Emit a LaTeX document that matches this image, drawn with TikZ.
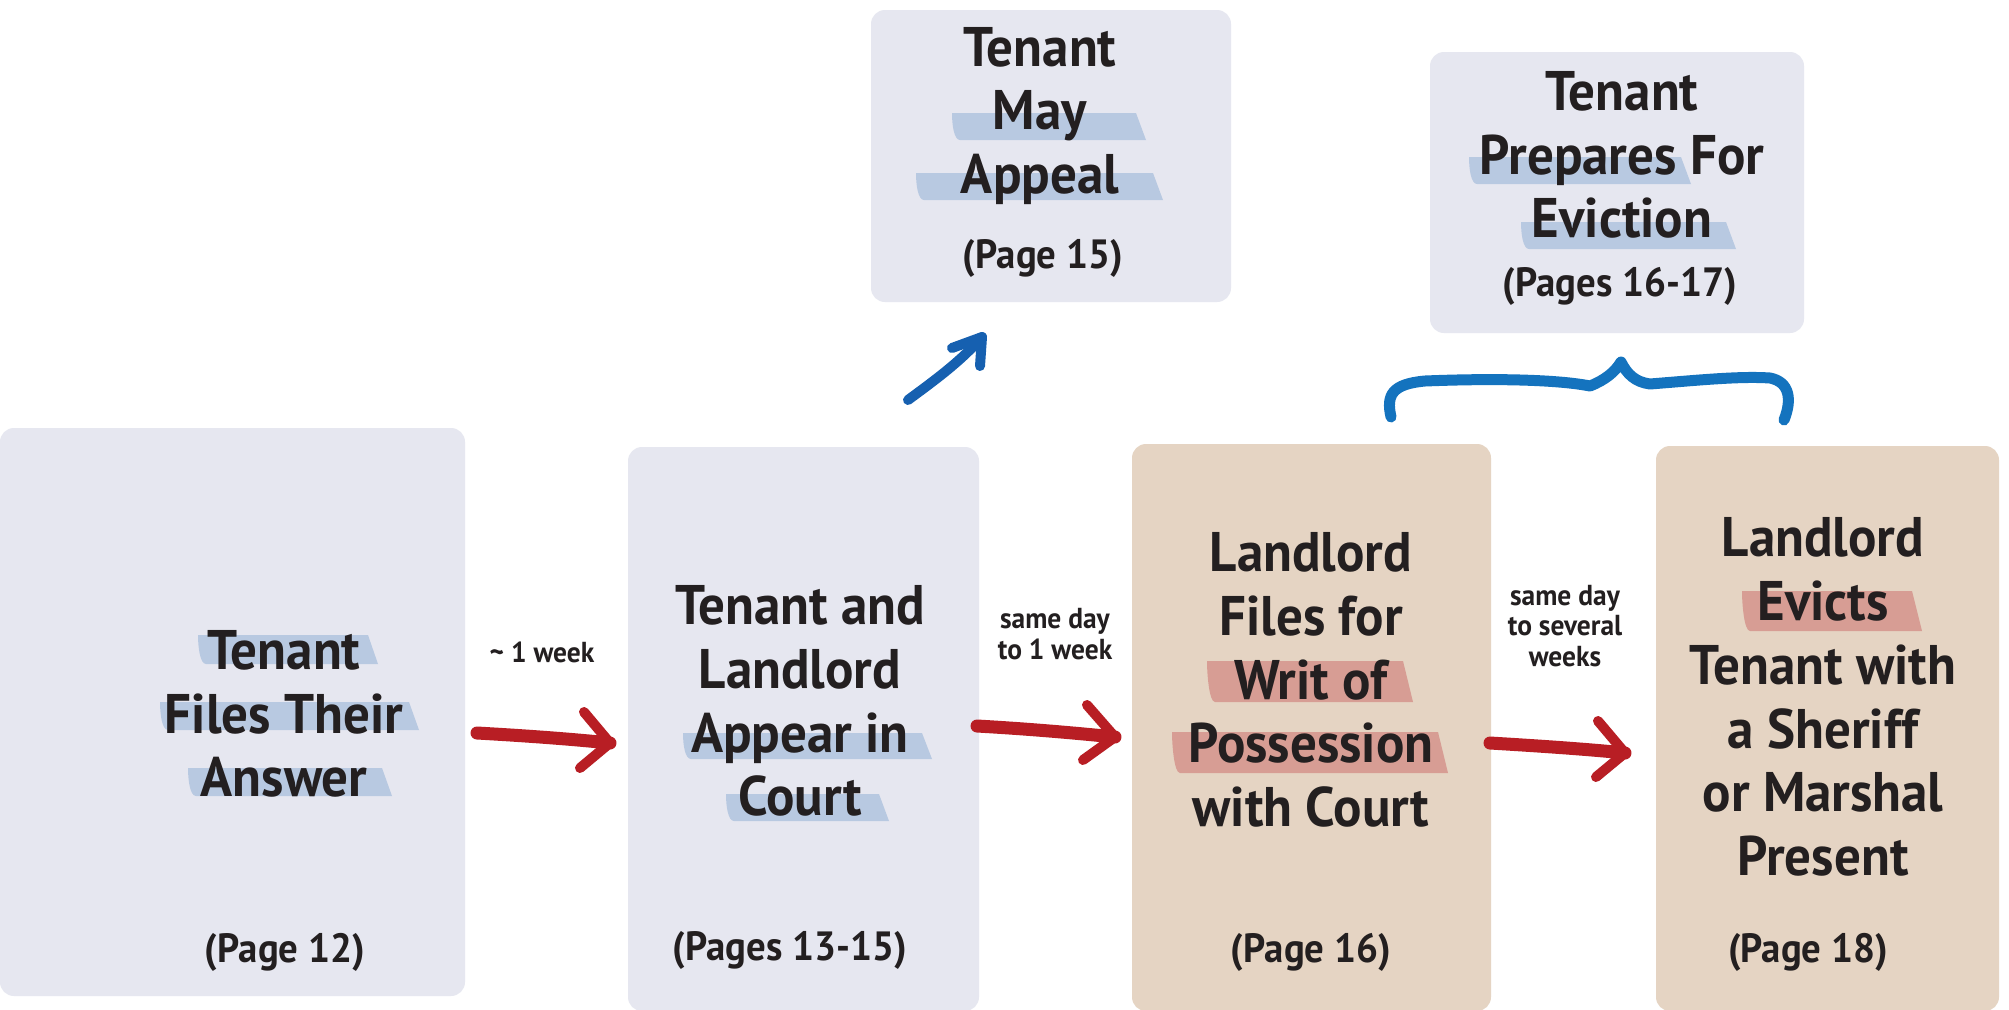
\documentclass[tikz,border=0pt]{standalone}
\usepackage{fontspec}
\setmainfont{PT Sans}[FakeStretch=0.95]
\definecolor{boxgray}{RGB}{230,231,240}
\definecolor{boxtan}{RGB}{229,212,195}
\definecolor{barblue}{RGB}{184,201,225}
\definecolor{barred}{RGB}{215,157,148}
\definecolor{arrred}{RGB}{184,30,36}
\definecolor{arrblue}{RGB}{22,96,176}
\definecolor{braceblue}{RGB}{20,115,190}
\definecolor{ink}{RGB}{35,31,32}
\newcommand\hlbar[5]{\fill[#1] (#2,#4) -- (#3-10,#4) -- (#3,#5) -- (#2+8,#5) .. controls (#2+2,#5) and (#2,#4+12) .. (#2,#4) -- cycle;}
\tikzset{
  panel/.style={fill=#1, draw=none, rounded corners=14bp, inner sep=0pt},
  big/.style={font=\bfseries\fontsize{56}{64}\selectfont, align=center, text=ink, inner sep=0pt},
  pg/.style={font=\bfseries\fontsize{41}{48}\selectfont, text=ink, inner sep=0pt},
  lbl/.style={font=\bfseries\fontsize{29}{31}\selectfont, align=center, text=ink, inner sep=0pt},
  redshaft/.style={draw=arrred, line width=13bp, line cap=round, line join=round},
  redhead/.style={draw=arrred, line width=10bp, line cap=round, line join=round},
  bluearr/.style={draw=arrblue, line width=10bp, line cap=round, line join=round},
  bracestyle/.style={draw=braceblue, line width=11bp, line cap=round, line join=round}
}
\begin{document}
\begin{tikzpicture}[x=1bp,y=-1bp]
\useasboundingbox (0,0) rectangle (2009,1009);
\fill[white] (0,0) rectangle (2009,1009);
% panels
\node[panel=boxgray, minimum width=465bp, minimum height=568bp] (b1) at (232.5,712) {};
\node[panel=boxgray, minimum width=351bp, minimum height=564bp] (b2) at (803.5,729) {};
\node[panel=boxtan, minimum width=359bp, minimum height=567bp] (b3) at (1311.5,727.5) {};
\node[panel=boxtan, minimum width=343bp, minimum height=565bp] (b4) at (1827.5,728.5) {};
\node[panel=boxgray, minimum width=360bp, minimum height=292bp] (t1) at (1051,156) {};
\node[panel=boxgray, minimum width=374bp, minimum height=281bp] (t2) at (1617,192.5) {};
% highlight bars
\hlbar{barblue}{198}{378}{635}{664}
\hlbar{barblue}{160}{419}{702}{730}
\hlbar{barblue}{188}{392}{768}{796}
\hlbar{barblue}{683}{932}{733}{759}
\hlbar{barblue}{726}{889}{794}{821}
\hlbar{barred}{1207}{1413}{661}{702}
\hlbar{barred}{1172}{1448}{732}{773}
\hlbar{barred}{1742}{1922}{591}{631}
\hlbar{barblue}{952}{1146}{113}{140}
\hlbar{barblue}{916}{1163}{173}{200}
\hlbar{barblue}{1469}{1691}{157}{184}
\hlbar{barblue}{1521}{1736}{222}{249}
% texts
\node[big] (b1txt) at (284,714) {Tenant\\Files Their\\Answer};
\node[big] (b2txt) at (800,701) {Tenant and\\Landlord\\Appear in\\Court};
\node[big] (b3txt) at (1311,680) {Landlord\\Files for\\Writ of\\Possession\\with Court};
\node[big] (b4txt) at (1823,697) {Landlord\\Evicts\\Tenant with\\a Sheriff\\or Marshal\\Present};
\node[big] (t1txt) at (1040,116) {Tenant\\May\\Appeal};
\node[big] (t2txt) at (1622,155) {Tenant\\Prepares For\\Eviction};
\node[pg] (b1pg) at (285,952) {(Page 12)};
\node[pg] (b2pg) at (790,950) {(Pages 13-15)};
\node[pg] (b3pg) at (1311,952) {(Page 16)};
\node[pg] (b4pg) at (1808,952) {(Page 18)};
\node[pg] (t1pg) at (1043,258) {(Page 15)};
\node[pg] (t2pg) at (1620,286) {(Pages 16-17)};
\node[lbl] (l1) at (542,652) {\textasciitilde\ 1 week};
\node[lbl] (l2) at (1055,634) {same day\\to 1 week};
\node[lbl] (l3) at (1565,626) {same day\\to several\\weeks};
% red arrows
\coordinate (a1s) at (477,733); \coordinate (a1e) at (610,743);
\coordinate (a1u) at (584,712); \coordinate (a1d) at (580,768);
\draw[redshaft] (a1s) .. controls (530,736) and (570,739) .. (a1e);
\draw[redhead] (a1u) -- (a1e) -- (a1d);
\coordinate (a2s) at (977,726); \coordinate (a2e) at (1115,737);
\coordinate (a2u) at (1087,705); \coordinate (a2d) at (1083,760);
\draw[redshaft] (a2s) .. controls (1030,729) and (1075,733) .. (a2e);
\draw[redhead] (a2u) -- (a2e) -- (a2d);
\coordinate (a3s) at (1490,743); \coordinate (a3e) at (1625,753);
\coordinate (a3u) at (1598,721); \coordinate (a3d) at (1596,777);
\draw[redshaft] (a3s) .. controls (1540,746) and (1585,749) .. (a3e);
\draw[redhead] (a3u) -- (a3e) -- (a3d);
% blue arrow
\coordinate (bas) at (908,400); \coordinate (bae) at (982,337);
\coordinate (bau) at (952,348); \coordinate (bad) at (980,366);
\draw[bluearr] (bas) .. controls (935,380) and (960,362) .. (bae);
\draw[bluearr] (bau) -- (bae) -- (bad);
% brace
\coordinate (brl) at (1391,417); \coordinate (brm) at (1621,362); \coordinate (brr) at (1784,420);
\draw[bracestyle] (brl) .. controls (1386,395) and (1392,384) .. (1425,381)
  .. controls (1500,378) and (1560,380) .. (1590,386)
  .. controls (1605,380) and (1615,372) .. (brm)
  .. controls (1627,374) and (1635,382) .. (1650,384)
  .. controls (1700,380) and (1740,376) .. (1770,378)
  .. controls (1790,382) and (1792,400) .. (brr);
\end{tikzpicture}
\end{document}
